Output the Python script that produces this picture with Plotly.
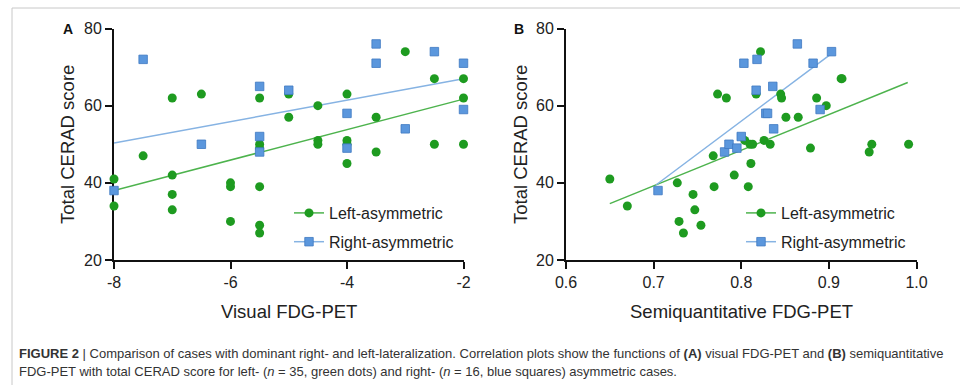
import plotly.graph_objects as go

# ---------------- data ----------------
a_left_x = [-8, -8, -7.5, -7, -7, -7, -7, -6.5, -6, -6, -6, -5.5, -5.5, -5.5, -5.5, -5.5, -5.5,
            -5, -5, -4.5, -4.5, -4.5, -4, -4, -4, -4, -3.5, -3.5, -3, -2.5, -2.5, -2, -2, -2]
a_left_y = [41, 34, 47, 62, 42, 37, 33, 63, 40, 39, 30, 62, 50, 49, 39, 29, 27,
            63, 57, 60, 51, 50, 63, 51, 50, 45, 57, 48, 74, 67, 50, 67, 62, 50]
a_right_x = [-8, -7.5, -6.5, -5.5, -5.5, -5.5, -5, -4, -4, -3.5, -3.5, -3, -2.5, -2, -2]
a_right_y = [38, 72, 50, 65, 52, 48, 64, 58, 49, 76, 71, 54, 74, 71, 59]

b_left_x = [0.65, 0.67, 0.727, 0.729, 0.734, 0.745, 0.747, 0.754, 0.768, 0.769, 0.773, 0.783,
            0.792, 0.804, 0.808, 0.810, 0.811, 0.813, 0.817, 0.822, 0.826, 0.833, 0.845, 0.846,
            0.851, 0.865, 0.879, 0.886, 0.897, 0.914, 0.915, 0.946, 0.949, 0.991]
b_left_y = [41, 34, 40, 30, 27, 37, 33, 29, 47, 39, 63, 62,
            42, 51, 39, 50, 45, 50, 63, 74, 51, 50, 63, 62,
            57, 57, 49, 62, 60, 67, 67, 48, 50, 50]
b_right_x = [0.705, 0.781, 0.786, 0.795, 0.800, 0.803, 0.817, 0.818, 0.828, 0.830, 0.836, 0.837,
             0.864, 0.882, 0.890, 0.903]
b_right_y = [38, 48, 50, 49, 52, 71, 64, 72, 58, 58, 65, 54, 76, 71, 59, 74]

# fitted regression lines (end points)
a_fit_left_x, a_fit_left_y = [-8, -2], [38, 61.7]
a_fit_right_x, a_fit_right_y = [-8, -2], [50.3, 67]
b_fit_left_x, b_fit_left_y = [0.65, 0.99], [34.6, 66]
b_fit_right_x, b_fit_right_y = [0.703, 0.903], [39.5, 73.5]

x_ticks_a = [-8, -6, -4, -2]
x_tick_text_a = ["-8", "-6", "-4", "-2"]
x_ticks_b = [0.6, 0.7, 0.8, 0.9, 1.0]
x_tick_text_b = ["0.6", "0.7", "0.8", "0.9", "1.0"]
y_ticks = [20, 40, 60, 80]

series_names = ["Left-asymmetric", "Right-asymmetric"]

# ---------------- style ----------------
GREEN = "#1e9b20"
GREEN_LINE = "#4db34d"
BLUE = "#5b97dd"
BLUE_EDGE = "#3f78c2"
BLUE_LINE = "#86b3e3"
FONT = "Liberation Sans, Arial, sans-serif"

W, H = 960, 385
fig = go.Figure()


def add_panel(xa, ya, leg, lx, ly, rx, ry, flx, fly, frx, fry):
    fig.add_trace(go.Scatter(x=flx, y=fly, mode="lines", xaxis=xa, yaxis=ya,
                             line=dict(color=GREEN_LINE, width=1.5), showlegend=False, hoverinfo="skip"))
    fig.add_trace(go.Scatter(x=frx, y=fry, mode="lines", xaxis=xa, yaxis=ya,
                             line=dict(color=BLUE_LINE, width=1.5), showlegend=False, hoverinfo="skip"))
    fig.add_trace(go.Scatter(x=lx, y=ly, mode="markers", xaxis=xa, yaxis=ya, cliponaxis=False,
                             marker=dict(symbol="circle", size=9, color=GREEN, line=dict(width=0)),
                             showlegend=False, name=series_names[0]))
    fig.add_trace(go.Scatter(x=rx, y=ry, mode="markers", xaxis=xa, yaxis=ya, cliponaxis=False,
                             marker=dict(symbol="square", size=8.5, color=BLUE,
                                         line=dict(width=0.8, color=BLUE_EDGE)),
                             showlegend=False, name=series_names[1]))
    # legend entries
    fig.add_trace(go.Scatter(x=[None], y=[None], mode="lines+markers", xaxis=xa, yaxis=ya,
                             name=series_names[0], legend=leg, legendgroup=leg + "l",
                             line=dict(color=GREEN_LINE, width=1.5),
                             marker=dict(symbol="circle", size=9, color=GREEN)))
    fig.add_trace(go.Scatter(x=[None], y=[None], mode="lines+markers", xaxis=xa, yaxis=ya,
                             name=series_names[1], legend=leg, legendgroup=leg + "r",
                             line=dict(color=BLUE_LINE, width=1.5),
                             marker=dict(symbol="square", size=8.5, color=BLUE,
                                         line=dict(width=0.8, color=BLUE_EDGE))))


add_panel("x", "y", "legend", a_left_x, a_left_y, a_right_x, a_right_y,
          a_fit_left_x, a_fit_left_y, a_fit_right_x, a_fit_right_y)
add_panel("x2", "y2", "legend2", b_left_x, b_left_y, b_right_x, b_right_y,
          b_fit_left_x, b_fit_left_y, b_fit_right_x, b_fit_right_y)

ydom = [1 - 260 / H, 1 - 28.5 / H]
axis_common = dict(showgrid=False, zeroline=False, showline=True, linecolor="#111", linewidth=2,
                   ticks="outside", ticklen=7, tickwidth=2, tickcolor="#111", automargin=False,
                   tickfont=dict(family=FONT, size=16, color="#222"), layer="below traces")

legend_common = dict(bgcolor="rgba(0,0,0,0)", font=dict(family=FONT, size=16, color="#222"),
                     tracegroupgap=5, itemwidth=30, yanchor="top", xanchor="left")

fig.update_layout(
    template="none",
    width=W, height=H, margin=dict(l=0, r=0, t=0, b=0, pad=0, autoexpand=False),
    paper_bgcolor="white", plot_bgcolor="white",
    font=dict(family=FONT, color="#222"),
    xaxis=dict(domain=[114 / W, 463.5 / W], range=[-8, -2], tickvals=x_ticks_a,
               ticktext=x_tick_text_a, anchor="y", **axis_common),
    yaxis=dict(domain=ydom, range=[20, 80], tickvals=y_ticks, anchor="x", **axis_common),
    xaxis2=dict(domain=[566 / W, 916.5 / W], range=[0.6, 1.0], tickvals=x_ticks_b,
                ticktext=x_tick_text_b, anchor="y2", **axis_common),
    yaxis2=dict(domain=ydom, range=[20, 80], tickvals=y_ticks, anchor="x2", **axis_common),
    legend=dict(x=289 / W, y=1 - 196 / H, **legend_common),
    legend2=dict(x=741 / W, y=1 - 196 / H, **legend_common),
)

ann = []


def add_text(text, px, py, size, xanchor="center", angle=0, color="#222", family=FONT):
    ann.append(dict(text=text, x=px / W, y=1 - py / H, xref="paper", yref="paper",
                    xanchor=xanchor, yanchor="middle", textangle=angle, showarrow=False,
                    borderpad=0, font=dict(family=family, size=size, color=color)))


# panel letters
add_text("<b>A</b>", 68, 29, 14, color="#111")
add_text("<b>B</b>", 519, 29, 14, color="#111")
# axis titles
add_text("Visual FDG-PET", 289, 311, 18.5)
add_text("Semiquantitative FDG-PET", 741, 311, 18.5)
add_text("Total CERAD score", 67, 145, 18.5, angle=-90)
add_text("Total CERAD score", 520, 145, 18.5, angle=-90)
# caption
add_text("<b>FIGURE 2</b> | Comparison of cases with dominant right- and left-lateralization. "
         "Correlation plots show the functions of <b>(A)</b> visual FDG-PET and "
         "<b>(B)</b> semiquantitative", 18, 353, 13, xanchor="left", color="#333")
add_text("FDG-PET with total CERAD score for left- (<i>n</i> = 35, green dots) and right- "
         "(<i>n</i> = 16, blue squares) asymmetric cases.", 18, 371, 13, xanchor="left", color="#333")
fig.update_layout(annotations=ann)

# page frame lines
fig.add_shape(type="line", xref="paper", yref="paper", x0=12 / W, x1=1, y0=1 - 8 / H, y1=1 - 8 / H,
              line=dict(color="#c8c8c8", width=1))
fig.add_shape(type="line", xref="paper", yref="paper", x0=12 / W, x1=12 / W, y0=0, y1=1 - 8 / H,
              line=dict(color="#c8c8c8", width=1))

fig.write_html("out.html", config={"displayModeBar": False},
               post_script="document.body.style.margin='0';document.body.style.overflow='hidden';")
